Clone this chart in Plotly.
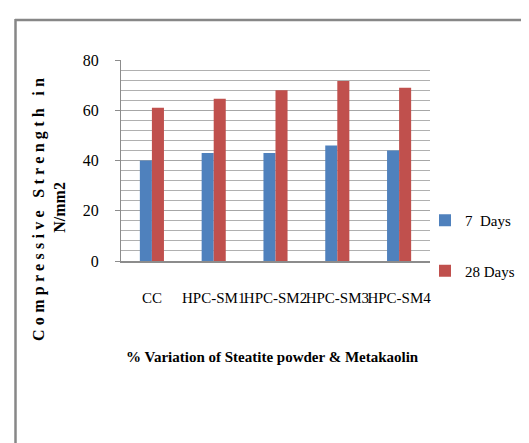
import plotly.graph_objects as go

categories = ["CC", "HPC-SM1", "HPC-SM2", "HPC-SM3", "HPC-SM4"]
days7 = [40, 43, 43, 46, 44]
days28 = [61, 64.6, 68, 71.6, 69]
series_names = ["7  Days", "28 Days"]
y_ticks = [0, 20, 40, 60, 80]

W, H = 529, 443
L, R, T, B = 113, 107, 52, 190
pw, ph = W - L - R, H - T - B

def px(x):
    return (x - L) / pw

def py(y):
    return (H - B - y) / ph

serif = "Liberation Serif"
fig = go.Figure()
fig.add_trace(go.Bar(x=categories, y=days7, name=series_names[0],
                     marker=dict(color="#4F81BD", line=dict(width=0)), legendgroup="a"))
fig.add_trace(go.Bar(x=categories, y=days28, name=series_names[1],
                     marker=dict(color="#C0504D", line=dict(width=0)), legendgroup="b"))

fig.update_layout(
    width=W, height=H,
    margin=dict(l=L, r=R, t=T, b=B, autoexpand=False),
    paper_bgcolor="white", plot_bgcolor="white",
    barmode="group", bargap=0.61, bargroupgap=0,
    font=dict(family=serif, size=15, color="black"),
    showlegend=True,
    legend=dict(x=px(417), y=py(196), xanchor="left", yanchor="top",
                font=dict(family=serif, size=15, color="black"),
                tracegroupgap=28, itemwidth=30, bgcolor="rgba(0,0,0,0)"),
    xaxis=dict(showline=True, linecolor="#8c8c8c", linewidth=1.5, ticks="",
               tickangle=0, tickfont=dict(family=serif, size=15), ticklabelstandoff=22,
               showgrid=False),
    yaxis=dict(range=[0, 80], tickvals=y_ticks, showline=True, linecolor="#8c8c8c",
               linewidth=1, ticks="outside", ticklen=5, tickcolor="#8c8c8c",
               tickfont=dict(family=serif, size=16), ticklabelstandoff=13,
               showgrid=True, gridcolor="#a6a6a6", gridwidth=1, zeroline=False,
               minor=dict(dtick=4, showgrid=True, gridcolor="#b0b0b0", gridwidth=1)),
    annotations=[
        dict(text="<span style=\"letter-spacing:4.3px\"><b>Compressive Strength in</b></span><br><b>N/mm2</b>",
             xref="paper", yref="paper",
             x=px(41), y=py(200), xanchor="center", yanchor="middle", textangle=-90,
             showarrow=False, font=dict(family=serif, size=16, color="black")),
        dict(text="<b>% Variation of Steatite powder & Metakaolin</b>", xref="paper", yref="paper",
             x=px(264), y=py(349), xanchor="center", yanchor="middle",
             showarrow=False, font=dict(family=serif, size=15, color="black")),
    ],
    shapes=[
        dict(type="line", xref="paper", yref="paper", x0=px(7), x1=px(529), y0=py(12), y1=py(12),
             line=dict(color="#878787", width=2.5)),
        dict(type="line", xref="paper", yref="paper", x0=px(7.5), x1=px(7.5), y0=py(11), y1=py(443),
             line=dict(color="#878787", width=2.5)),
    ],
)
fig.write_html("out.html")
